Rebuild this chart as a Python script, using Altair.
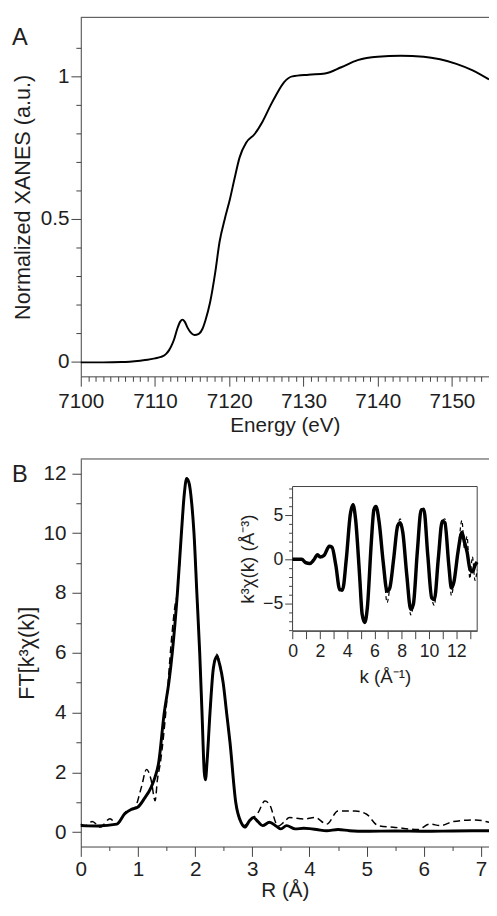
import altair as alt
import pandas as pd

# --- panel A: normalized XANES ---
xanes_energy = [7100, 7103, 7105.5, 7108, 7109, 7110, 7110.8, 7111.5, 7111.9, 7112.3,
                7112.6, 7113.0, 7113.4, 7113.7, 7114.0, 7114.4, 7114.8, 7115.3, 7115.9, 7116.4,
                7116.8, 7117.4, 7118.1, 7118.7, 7119.4, 7120.1, 7120.7, 7121.4, 7122.3, 7123.4,
                7124.5, 7125.6, 7126.3, 7127.4, 7128.5, 7130.7, 7132.9, 7135.1, 7137.3, 7140,
                7143.1, 7146.2, 7148.4, 7150.6, 7152.8, 7155]
xanes_norm = [-0.003, -0.003, -0.002, 0.003, 0.006, 0.011, 0.016, 0.027, 0.04, 0.06,
              0.08, 0.115, 0.14, 0.147, 0.14, 0.118, 0.102, 0.093, 0.097, 0.115,
              0.145, 0.205, 0.31, 0.42, 0.50, 0.57, 0.64, 0.716, 0.768, 0.797,
              0.842, 0.90, 0.934, 0.98, 1.0, 1.006, 1.01, 1.032, 1.057, 1.069,
              1.072, 1.069, 1.06, 1.044, 1.021, 0.989]

# --- panel B: FT magnitude, fit (solid) and data (dashed) ---
ft_r_fit = [0, 0.3, 0.63, 0.77, 0.88, 1.0, 1.11, 1.23, 1.3, 1.36,
            1.46, 1.54, 1.6, 1.69, 1.76, 1.81, 1.85, 1.89, 1.94, 1.98,
            2.03, 2.08, 2.12, 2.16, 2.18, 2.21, 2.26, 2.32, 2.38, 2.43,
            2.49, 2.55, 2.61, 2.71, 2.81, 2.87, 2.95, 3.02, 3.1, 3.18,
            3.3, 3.42, 3.5, 3.6, 3.75, 3.9, 4.0, 4.15, 4.3, 4.5,
            4.7, 5.0, 5.5, 6.0, 6.5, 7.14]
ft_fit = [0.22, 0.21, 0.27, 0.62, 0.76, 0.84, 1.12, 1.5, 1.85, 2.3,
          4.0, 5.0, 6.0, 8.0, 10.0, 11.3, 11.82, 11.7, 11.0, 10.0,
          8.0, 6.0, 4.0, 2.0, 1.75, 2.4, 4.0, 5.5, 5.88, 5.6,
          5.0, 4.0, 3.0, 1.0, 0.3, 0.17, 0.38, 0.49, 0.35, 0.22,
          0.33, 0.2, 0.11, 0.22, 0.11, 0.13, 0.12, 0.08, 0.05, 0.09,
          0.05, 0.03, 0.04, 0.03, 0.04, 0.05]

ft_r_data = [0, 0.08, 0.2, 0.34, 0.51, 0.63, 0.8, 0.94, 1.06, 1.15,
             1.23, 1.3, 1.34, 1.39, 1.5, 1.58, 1.65, 1.69, 1.76, 1.81,
             1.85, 1.89, 1.94, 1.98, 2.03, 2.08, 2.12, 2.16, 2.18, 2.21,
             2.26, 2.32, 2.38, 2.43, 2.49, 2.55, 2.61, 2.71, 2.81, 2.86,
             2.95, 3.1, 3.22, 3.3, 3.45, 3.55, 3.65, 3.9, 4.1, 4.3,
             4.5, 4.8, 5.0, 5.2, 5.5, 5.9, 6.1, 6.3, 6.5, 6.9, 7.14]
ft_data = [0.27, 0.22, 0.36, 0.17, 0.45, 0.27, 0.7, 0.8, 1.5, 2.1,
           1.75, 1.05, 1.75, 2.3, 4.3, 6.3, 7.6, 8.0, 10.0, 11.3,
           11.85, 11.75, 11.0, 10.0, 8.0, 6.0, 4.0, 2.0, 1.75, 2.4,
           4.0, 5.55, 5.95, 5.65, 5.0, 4.0, 3.0, 1.0, 0.3, 0.22,
           0.38, 0.65, 1.04, 0.93, 0.2, 0.33, 0.49, 0.44, 0.49, 0.27,
           0.71, 0.71, 0.6, 0.22, 0.16, 0.09, 0.27, 0.22, 0.35, 0.41, 0.33]

# --- inset: k^3 chi(k) ---
k_vals = [0, 0.67, 0.96, 1.25, 1.54, 1.83, 2.02, 2.31, 2.69, 2.89,
          3.17, 3.46, 3.66, 3.94, 4.23, 4.43, 4.62, 4.91, 5.1, 5.29,
          5.48, 5.77, 5.96, 6.11, 6.35, 6.64, 6.93, 7.12, 7.41, 7.7,
          7.89, 8.08, 8.37, 8.66, 8.85, 9.14, 9.43, 9.62, 9.91, 10.2,
          10.39, 10.68, 10.97, 11.16, 11.45, 11.64, 11.83, 12.12, 12.41, 12.6,
          12.79, 12.99, 13.18, 13.37, 13.52]
chi_fit = [0, 0, -0.37, -0.48, -0.1, 0.52, 0.26, 0.44, 1.48, 1.37,
           -0.67, -3.44, -3.44, 0.07, 5.07, 6.19, 4.52, -1.78, -6.22, -7.15,
           -5.48, 1.93, 5.63, 6.0, 4.15, -0.3, -3.63, -3.26, 0.07, 3.78,
           4.15, 3.04, -1.78, -5.67, -5.1, 0.81, 5.63, 5.63, 0.44, -4.37,
           -4.56, 0.07, 4.33, 4.15, -0.67, -3.26, -2.52, 0.81, 3.04, 1.93,
           0.81, -1.04, -1.41, -0.67, -0.3]
chi_data = [0, 0, -0.37, -0.48, -0.1, 0.52, 0.26, 0.44, 1.48, 1.37,
            -0.67, -3.44, -3.6, 0.07, 5.07, 6.3, 4.52, -1.78, -6.22, -7.2,
            -5.48, 1.93, 5.63, 6.1, 4.15, -0.3, -4.9, -3.26, 0.07, 3.78,
            4.6, 3.04, -1.78, -6.3, -5.1, 0.81, 5.63, 5.8, 0.44, -4.37,
            -5.2, 0.07, 4.33, 4.6, -0.67, -4.1, -2.52, 0.81, 4.4, 1.2,
            2.6, -2.2, 0.3, -2.4, -1.2]

# tick positions
e_ticks = list(range(7100, 7156))
mu_ticks = [0.0, 0.1, 0.2, 0.3, 0.4, 0.5, 0.6, 0.7, 0.8, 0.9, 1.0, 1.1]
r_ticks = [0, 0.5, 1, 1.5, 2, 2.5, 3, 3.5, 4, 4.5, 5, 5.5, 6, 6.5, 7]
ft_ticks = list(range(0, 13))
k_ticks = list(range(0, 14))
chi_ticks = list(range(-8, 9))

FONT = "Liberation Sans"
AXIS_COLOR = "#404040"
TEXT_COLOR = "#1e1e1e"

# layout in pixels, origin = top-left of panel A's plot area
W = 415
A_BOT = 365                 # panel A plot: 0 .. A_BOT
B_TOP, B_BOT = 449, 843     # panel B plot
IN_L, IN_R = 215.3, 403     # inset plot
IN_T, IN_B = 477, 623.7
H = B_BOT
K_DOM = [0, 13.53]
CHI_DOM = [-8.1, 8.25]


def major_minor(test, major, minor):
    return {"condition": {"test": test, "value": major}, "value": minor}


def letter(t, y):
    return alt.Chart(pd.DataFrame({"t": [t]})).mark_text(
        align="left", baseline="top", fontSize=24, font=FONT, color=TEXT_COLOR
    ).encode(text="t:N", x=alt.value(-70), y=alt.value(y))


def top_line(y):
    return alt.Chart(pd.DataFrame({"v": [0]})).mark_rule(color=AXIS_COLOR, strokeWidth=1).encode(
        x=alt.value(0), x2=alt.value(W), y=alt.value(y)
    )


# panel A
df_a = pd.DataFrame({"E": xanes_energy, "mu": xanes_norm})
half = "abs(datum.value * 2 - round(datum.value * 2)) < 1e-6"
xanes = alt.Chart(df_a).mark_line(color="black", strokeWidth=2, interpolate="monotone").encode(
    x=alt.X("E:Q", scale=alt.Scale(domain=[7100, 7155], range=[0, W], nice=False, zero=False),
            axis=alt.Axis(orient="bottom", offset=A_BOT - H, values=e_ticks, format="d",
                          title="Energy (eV)", titleFontSize=21,
                          labelExpr="datum.value % 10 === 0 ? datum.label : ''",
                          tickSize=major_minor("datum.value % 10 === 0", 10, 5),
                          labelPadding=5, titleY=50, titleBaseline="middle")),
    y=alt.Y("mu:Q", scale=alt.Scale(domain=[-0.052, 1.207], range=[A_BOT, 0], nice=False, zero=False),
            axis=alt.Axis(orient="left", values=mu_ticks, format="~g",
                          title="Normalized XANES (a.u.)",
                          labelExpr=half + " ? datum.label : ''",
                          tickSize=major_minor(half, 10, 5),
                          labelPadding=2, titleX=-59, titleBaseline="middle")),
)
panel_a = alt.layer(xanes, top_line(0), letter("A", 9), top_line(B_TOP), letter("B", 453))

# panel B main
df_fit = pd.DataFrame({"R": ft_r_fit, "FT": ft_fit})
df_dat = pd.DataFrame({"R": ft_r_data, "FT": ft_data})
bx = alt.X("R:Q", scale=alt.Scale(domain=[0, 7.14], range=[0, W], nice=False, zero=False),
           axis=alt.Axis(orient="bottom", values=r_ticks, format="~g", title="R (Å)",
                         titleFontSize=21,
                         labelExpr="datum.value % 1 === 0 ? datum.label : ''",
                         tickSize=major_minor("datum.value % 1 === 0", 10, 4),
                         labelPadding=2, titleY=45, titleBaseline="middle"))
by = alt.Y("FT:Q", scale=alt.Scale(domain=[-0.48, 12.48], range=[B_BOT, B_TOP], nice=False, zero=False),
           axis=alt.Axis(orient="left", values=ft_ticks, format="d", title="FT[k³χ(k)]",
                         labelExpr="datum.value % 2 === 0 ? datum.label : ''",
                         tickSize=major_minor("datum.value % 2 === 0", 9, 5),
                         labelPadding=6, titleX=-55, titleBaseline="middle"))
ft_dashed = alt.Chart(df_dat).mark_line(color="black", strokeWidth=1.5, strokeDash=[7, 4],
                                        interpolate="monotone").encode(x=bx, y=by)
ft_solid = alt.Chart(df_fit).mark_line(color="black", strokeWidth=3,
                                       interpolate="monotone").encode(x=bx, y=by)
panel_b = alt.layer(ft_dashed, ft_solid)

# inset
ix = alt.X("k:Q", scale=alt.Scale(domain=K_DOM, range=[IN_L, IN_R], nice=False, zero=False),
           axis=alt.Axis(orient="bottom", offset=IN_B - H, values=k_ticks, format="d",
                         title="k (Å⁻¹)", labelFontSize=18, titleFontSize=19,
                         labelExpr="datum.value % 2 === 0 ? datum.label : ''",
                         tickSize=8, labelPadding=4, titleY=47, titleBaseline="middle"))
iy = alt.Y("chi:Q", scale=alt.Scale(domain=CHI_DOM, range=[IN_B, IN_T], nice=False, zero=False),
           axis=alt.Axis(orient="left", offset=-IN_L, values=chi_ticks, format="d",
                         title="k³χ(k) (Å⁻³)", labelFontSize=18, titleFontSize=19,
                         labelExpr="datum.value % 5 === 0 ? datum.label : ''",
                         tickSize=major_minor("datum.value % 5 === 0", 8, 4),
                         labelPadding=2, titleX=-46, titleBaseline="middle"))
df_frame = pd.DataFrame({"k": [K_DOM[0]], "k2": [K_DOM[1]], "chi": [CHI_DOM[0]], "chi2": [CHI_DOM[1]]})
frame = alt.Chart(df_frame).mark_rect(fill="white", stroke=AXIS_COLOR, strokeWidth=1).encode(
    x=ix, x2="k2:Q", y=iy, y2="chi2:Q")
df_chi_fit = pd.DataFrame({"k": k_vals, "chi": chi_fit})
df_chi_dat = pd.DataFrame({"k": k_vals, "chi": chi_data})
chi_dashed = alt.Chart(df_chi_dat).mark_line(color="black", strokeWidth=1.2, strokeDash=[4, 3],
                                             interpolate="monotone").encode(x=ix, y=iy)
chi_solid = alt.Chart(df_chi_fit).mark_line(color="black", strokeWidth=3.5,
                                            interpolate="monotone").encode(x=ix, y=iy)
inset = alt.layer(frame, chi_solid, chi_dashed)

chart = alt.layer(panel_a, panel_b, inset).resolve_scale(
    x="independent", y="independent"
).properties(
    width=W, height=H,
    autosize=alt.AutoSizeParams(type="none"),
    padding={"left": 74, "top": 2, "right": 0, "bottom": 55},
).configure(font=FONT).configure_view(stroke=None).configure_axis(
    grid=False, labelFont=FONT, titleFont=FONT, labelFontSize=21, titleFontSize=22,
    titleFontWeight="normal", labelColor=TEXT_COLOR, titleColor=TEXT_COLOR,
    domainColor=AXIS_COLOR, tickColor=AXIS_COLOR, domainWidth=1, tickWidth=1,
    labelFlush=False, labelOverlap=False,
)

chart.save("out.html", embed_options={"renderer": "svg", "actions": False})
